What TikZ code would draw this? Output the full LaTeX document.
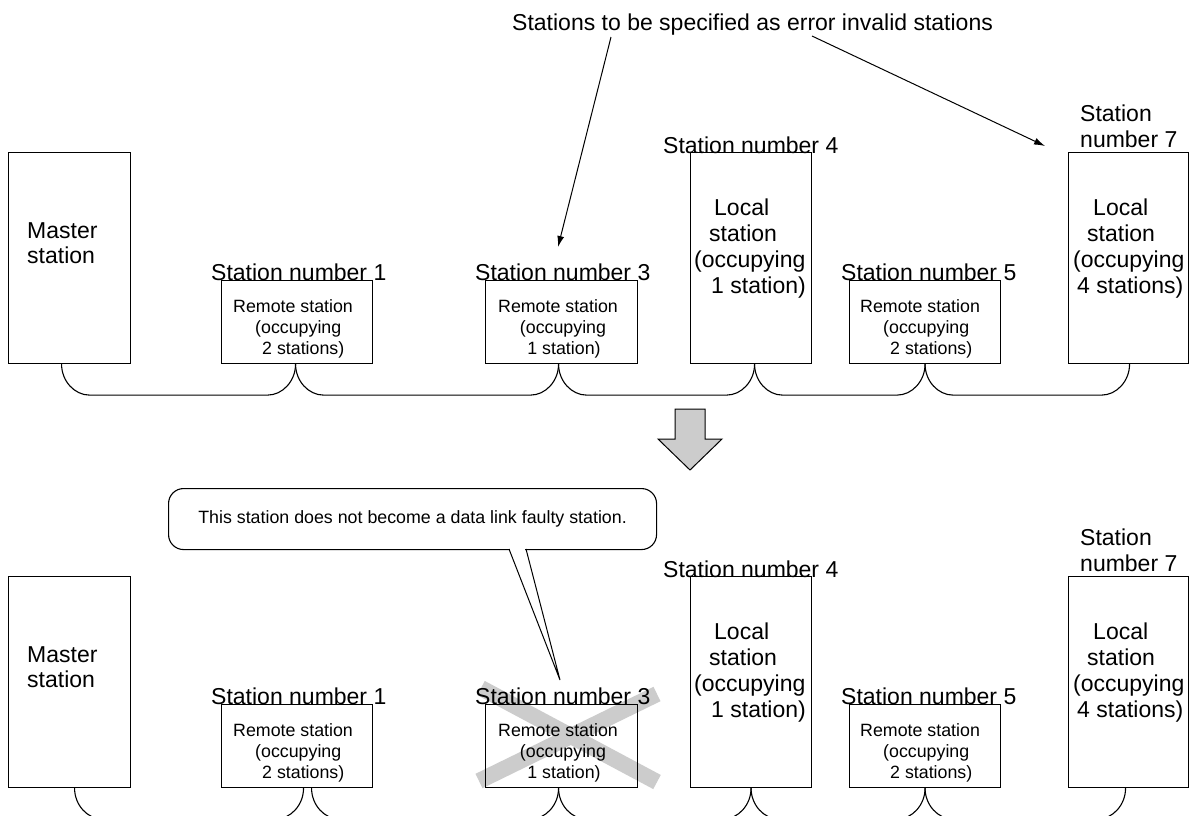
\documentclass[tikz,border=0pt]{standalone}
\usepackage{fontspec}
\setmainfont{Liberation Sans}
\usetikzlibrary{arrows.meta,calc}
\tikzset{
  box/.style={draw, line width=1.1pt, inner sep=0pt, anchor=north west},
  big/.style={font=\fontsize{23}{26}\selectfont, inner sep=0pt, anchor=base west},
  bigc/.style={font=\fontsize{23}{26}\selectfont, inner sep=0pt, anchor=base},
  small/.style={font=\fontsize{17.8}{21}\selectfont, inner sep=0pt, anchor=base west},
  smallc/.style={font=\fontsize{17.8}{21}\selectfont, inner sep=0pt, anchor=base},
  bus/.style={line width=1.1pt},
  pointer/.style={line width=1pt, -{Latex[length=11pt,width=7pt]}},
  crossmark/.style={line width=16pt, draw=black!20},
  bigarrow/.style={draw, line width=1pt, fill=black!20, line join=miter},
  callout/.style={draw, line width=1.1pt, rounded corners=15pt, fill=white, inner sep=0pt,
    minimum width=488pt, minimum height=61pt, anchor=north west,
    font=\fontsize{17.8}{21}\selectfont}
}
\newcommand\busseg[2]{%
  \draw[bus] (#1) .. controls ($(#1)+(0,17)$) and ($(#1)+(13,31)$) .. ($(#1)+(28,31)$)
    -- ($(#2)+(-28,31)$) .. controls ($(#2)+(-13,31)$) and ($(#2)+(0,17)$) .. (#2);}
\newcommand\stationrow[2]{%
  \begin{scope}[shift={(0,#2)}]
    % master
    \node[box, minimum width=122pt, minimum height=211pt] (#1m) at (8,152) {};
    \node[big] (#1mt1) at (27,238) {Master};
    \node[big] (#1mt2) at (27,263) {station};
    % station 1
    \node[box, minimum width=151pt, minimum height=83pt] (#1s1) at (221,280) {};
    \node[big] (#1l1) at (211,280) {Station number 1};
    \node[small] (#1s1a) at (233,312) {Remote station};
    \node[small] (#1s1b) at (255,333) {(occupying};
    \node[small] (#1s1c) at (262,354) {2 stations)};
    % station 3
    \node[box, minimum width=152pt, minimum height=83pt] (#1s3) at (485,280) {};
    \node[big] (#1l3) at (475,280) {Station number 3};
    \node[smallc] (#1s3a) at (558,312) {Remote station};
    \node[smallc] (#1s3b) at (563,333) {(occupying};
    \node[smallc] (#1s3c) at (564,354) {1 station)};
    % station 4
    \node[box, minimum width=121pt, minimum height=211pt] (#1s4) at (690,152) {};
    \node[big] (#1l4) at (663,153) {Station number 4};
    \node[big] (#1s4a) at (714,215) {Local};
    \node[big] (#1s4b) at (709,241) {station};
    \node[big] (#1s4c) at (694,267) {(occupying};
    \node[big] (#1s4d) at (711,293) {1 station)};
    % station 5
    \node[box, minimum width=151pt, minimum height=83pt] (#1s5) at (849,280) {};
    \node[big] (#1l5) at (841,280) {Station number 5};
    \node[small] (#1s5a) at (860,312) {Remote station};
    \node[small] (#1s5b) at (883,333) {(occupying};
    \node[small] (#1s5c) at (890,354) {2 stations)};
    % station 7
    \node[box, minimum width=120pt, minimum height=211pt] (#1s7) at (1068,152) {};
    \node[big] (#1l7a) at (1080,121) {Station};
    \node[big] (#1l7b) at (1080,147) {number 7};
    \node[big] (#1s7a) at (1093,215) {Local};
    \node[big] (#1s7b) at (1087,241) {station};
    \node[big] (#1s7c) at (1073,267) {(occupying};
    \node[big] (#1s7d) at (1077,293) {4 stations)};
  \end{scope}}
\begin{document}
\begin{tikzpicture}[x=1pt,y=-1pt]
\useasboundingbox (0,0) rectangle (1190,815);
\clip (0,0) rectangle (1190,815);
\fill[white] (0,0) rectangle (1190,815);

% ---------- top row ----------
\node[big] (title) at (512,30) {Stations to be specified as error invalid stations};
\stationrow{t}{0}
\coordinate (a1s) at (611,37);
\coordinate (a1e) at (558,247);
\coordinate (a2s) at (812,36);
\coordinate (a2e) at (1045,146);
\draw[pointer] (a1s) -- (a1e);
\draw[pointer] (a2s) -- (a2e);

\coordinate (tj0) at ($(tm.south)+(-8,0)$);
\coordinate (tj1) at ($(ts1.south)+(-1.5,0)$);
\coordinate (tj3) at ($(ts3.south)+(-3,0)$);
\coordinate (tj4) at ($(ts4.south)+(3.5,0)$);
\coordinate (tj5) at ($(ts5.south)+(0,0)$);
\coordinate (tj7) at ($(ts7.south)+(1,0)$);
\busseg{tj0}{tj1}
\busseg{tj1}{tj3}
\busseg{tj3}{tj4}
\busseg{tj4}{tj5}
\busseg{tj5}{tj7}

% ---------- big down arrow ----------
\draw[bigarrow] (675,409) -- (705,409) -- (705,439) -- (722,439) -- (690,470)
  -- (658,439) -- (675,439) -- cycle;

% ---------- bottom row ----------
\draw[crossmark] (481,688) -- (657,782);
\draw[crossmark] (479,781) -- (657,694);
\stationrow{b}{424}

\coordinate (bj0) at ($(bm.south)+(5,0)$);
\coordinate (bj1l) at ($(bs1.south)+(6.5,0)$);
\coordinate (bj1r) at ($(bs1.south)+(14.5,0)$);
\coordinate (bj3) at ($(bs3.south)+(-3,0)$);
\coordinate (bj4) at ($(bs4.south)+(0,0)$);
\coordinate (bj5) at ($(bs5.south)+(0,0)$);
\coordinate (bj7) at ($(bs7.south)+(-3,0)$);
\busseg{bj0}{bj1l}
\busseg{bj1r}{bj3}
\busseg{bj3}{bj4}
\busseg{bj4}{bj5}
\busseg{bj5}{bj7}

% ---------- callout ----------
\node[callout] (note) at (168,488) {This station does not become a data link faulty station.};
\coordinate (cpl) at (509,549);
\coordinate (cpr) at (526,549);
\coordinate (cpt) at (560,680);
\fill[white] ($(cpl)+(0.8,-2)$) rectangle ($(cpr)+(-0.8,2)$);
\draw[line width=1pt, line join=miter] (cpl) -- (cpt) -- (cpr);
\end{tikzpicture}
\end{document}
